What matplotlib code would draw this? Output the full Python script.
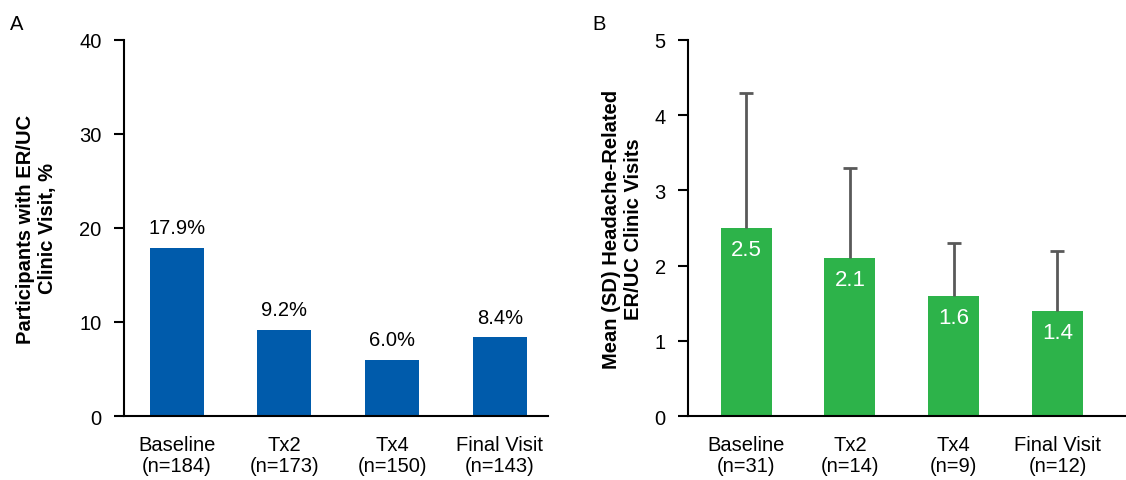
import numpy as np
import matplotlib
matplotlib.use('Agg')
import matplotlib.pyplot as plt

plt.rcParams['font.family'] = ['Liberation Sans', 'DejaVu Sans']

# panel A data
visits_a = ['Baseline\n(n=184)', 'Tx2\n(n=173)', 'Tx4\n(n=150)', 'Final Visit\n(n=143)']
pct_er = [17.9, 9.2, 6.0, 8.4]

# panel B data
visits_b = ['Baseline\n(n=31)', 'Tx2\n(n=14)', 'Tx4\n(n=9)', 'Final Visit\n(n=12)']
mean_visits = [2.5, 2.1, 1.6, 1.4]
sd_visits = [1.8, 1.2, 0.7, 0.8]

blue = '#005bab'
green = '#2db34a'
fs = 14.5


def style_axis(ax):
    for s in ['top', 'right']:
        ax.spines[s].set_visible(False)
    ax.spines['left'].set_linewidth(1.5)
    ax.spines['bottom'].set_linewidth(1.5)
    ax.tick_params(axis='y', direction='out', length=7, width=1.5, labelsize=fs, pad=9)
    ax.tick_params(axis='x', length=0, labelsize=fs, pad=14)


fig = plt.figure(figsize=(11.26, 4.81), dpi=100)

# ---- A
ax1 = fig.add_axes([0.110, 0.133, 0.377, 0.782])
x = np.arange(len(visits_a))
ax1.bar(x, pct_er, width=0.5, color=blue)
for xi, v in zip(x, pct_er):
    ax1.text(xi, v + 1.1, f'{v:.1f}%', ha='center', va='bottom', fontsize=fs)
ax1.set_ylim(0, 40)
ax1.set_yticks([0, 10, 20, 30, 40])
ax1.set_xlim(-0.49, 3.45)
ax1.set_xticks(x)
ax1.set_xticklabels(visits_a, linespacing=1.08)
ax1.set_ylabel('Participants with ER/UC\nClinic Visit, %', fontsize=fs, fontweight='bold',
               labelpad=16, linespacing=1.2)
style_axis(ax1)

# ---- B
ax2 = fig.add_axes([0.611, 0.133, 0.389, 0.782])
x = np.arange(len(visits_b))
ax2.bar(x, mean_visits, width=0.49, color=green)
eb = ax2.errorbar(x, mean_visits, yerr=[np.zeros(len(sd_visits)), sd_visits], fmt='none',
                  ecolor='#595959', elinewidth=2, capsize=5, capthick=2)
eb.lines[1][0].set_visible(False)  # only the upper cap
for xi, v in zip(x, mean_visits):
    ax2.text(xi, v - 0.29, f'{v:.1f}', ha='center', va='center', fontsize=fs + 1.5, color='white')
ax2.set_ylim(0, 5)
ax2.set_yticks([0, 1, 2, 3, 4, 5])
ax2.set_xlim(-0.56, 3.66)
ax2.set_xticks(x)
ax2.set_xticklabels(visits_b, linespacing=1.08)
ax2.set_ylabel('Mean (SD) Headache-Related\nER/UC Clinic Visits', fontsize=fs, fontweight='bold',
               labelpad=8, linespacing=1.2)
style_axis(ax2)

fig.text(0.009, 0.938, 'A', fontsize=fs)
fig.text(0.526, 0.938, 'B', fontsize=fs)

fig.savefig('out.png', dpi=100)
